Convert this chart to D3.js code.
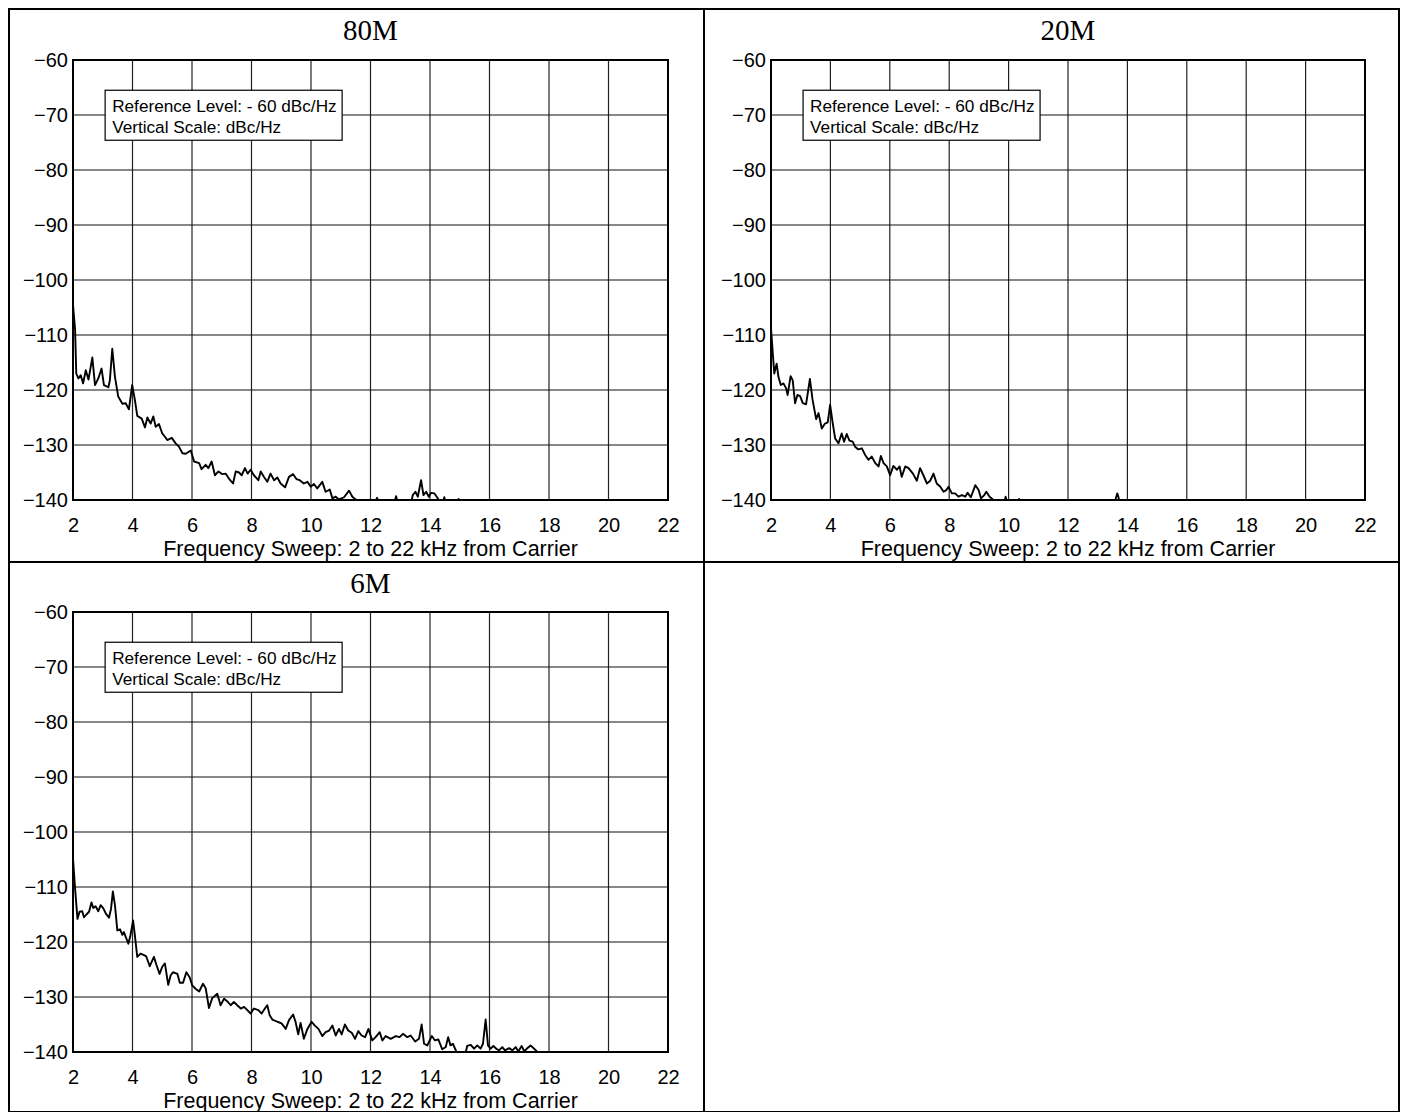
<!DOCTYPE html>
<html>
<head>
<meta charset="utf-8">
<script src="https://cdn.jsdelivr.net/npm/d3@7"></script>
<style>
  html, body { margin: 0; padding: 0; background: #fff; }
  svg { display: block; }
</style>
</head>
<body>
<div id="chart"></div>
<script>
// ---------------- DATA ----------------
const panelTitles = ["80M", "20M", "6M"];
const xTickValues = [2, 4, 6, 8, 10, 12, 14, 16, 18, 20, 22];
const yTickValues = [-60, -70, -80, -90, -100, -110, -120, -130, -140];
const xAxisTitle = "Frequency Sweep: 2 to 22 kHz from Carrier";
const legendLines = ["Reference Level: - 60 dBc/Hz", "Vertical Scale: dBc/Hz"];

// 80M : frequency (kHz from carrier) and level (dBc/Hz); values below -140 are off-scale
const freq80M = [2.00,2.07,2.11,2.18,2.26,2.34,2.43,2.52,2.65,2.74,2.85,2.96,3.04,3.19,3.24,3.32,3.41,3.52,3.66,3.77,3.88,3.99,4.08,4.16,4.31,4.42,4.50,4.61,4.70,4.78,4.89,5.00,5.09,5.17,5.32,5.45,5.56,5.68,5.79,5.96,6.07,6.24,6.32,6.46,6.55,6.66,6.77,6.89,7.02,7.13,7.24,7.38,7.47,7.58,7.67,7.78,7.87,7.97,8.08,8.23,8.31,8.42,8.53,8.64,8.76,8.87,8.98,9.13,9.26,9.40,9.51,9.62,9.76,9.88,9.99,10.10,10.21,10.38,10.49,10.63,10.72,10.83,10.94,11.11,11.28,11.39,11.50,11.61,11.80,12.12,12.22,12.32,12.78,12.86,12.94,13.35,13.42,13.51,13.59,13.70,13.78,13.87,13.96,14.03,14.15,14.26,14.35,14.42,14.48,14.55,14.90,14.96,15.03];
const level80M = [-104.5,-109,-117,-117.9,-117.3,-118.8,-116.4,-118.1,-114.1,-119.1,-117.9,-116.1,-119.1,-119.5,-118.2,-112.5,-117.6,-121.2,-122.5,-122.4,-123.5,-119.1,-121.8,-124.7,-125.2,-126.8,-125.0,-126.1,-124.8,-126.7,-126.2,-127.9,-128.5,-129.1,-128.7,-129.7,-130.3,-131.5,-131.6,-131.0,-133.0,-133.3,-134.4,-133.6,-134.2,-133.0,-135.5,-134.8,-135.3,-135.2,-136.1,-137.0,-134.8,-135.0,-135.5,-134.2,-135.2,-134.5,-135.5,-136.4,-134.8,-135.8,-136.7,-135.2,-136.4,-135.9,-137.0,-137.7,-135.8,-135.3,-136.2,-136.4,-137.0,-136.7,-137.6,-137.1,-137.9,-136.7,-138.5,-138.1,-139.7,-139.4,-139.9,-139.5,-138.3,-139.4,-139.9,-140.2,-141,-141,-139.6,-141,-141,-139.3,-141,-141,-139.1,-138.5,-139.4,-136.4,-139.1,-138.5,-139.4,-138.7,-138.8,-139.7,-141,-141,-139.5,-141,-141,-139.8,-141];

// 20M
const freq20M = [2.00,2.06,2.11,2.19,2.25,2.33,2.42,2.51,2.56,2.66,2.73,2.81,2.89,2.98,3.07,3.18,3.31,3.40,3.52,3.60,3.71,3.82,3.91,3.99,4.08,4.16,4.27,4.38,4.46,4.55,4.64,4.75,4.83,4.94,5.06,5.17,5.28,5.39,5.51,5.62,5.70,5.79,5.90,6.01,6.12,6.24,6.33,6.40,6.52,6.63,6.78,6.91,7.02,7.13,7.25,7.36,7.47,7.58,7.70,7.81,7.90,7.98,8.09,8.20,8.31,8.43,8.54,8.62,8.73,8.88,8.99,9.07,9.18,9.25,9.36,9.49,9.61,9.75,9.84,9.90,9.97,10.30,10.35,10.40,13.55,13.62,13.66,13.70,13.76];
const level20M = [-108.8,-113.3,-117.0,-115.2,-117.6,-119.1,-118.8,-119.7,-120.9,-117.5,-118.2,-122.4,-120.9,-121.1,-122.4,-122.6,-118.0,-121.8,-125.3,-124.2,-127.0,-126.1,-125.9,-122.7,-126.1,-128.8,-129.7,-127.9,-129.4,-128.0,-129.2,-129.4,-130.3,-130.8,-130.6,-131.8,-132.7,-132.1,-133.3,-133.9,-132.0,-133.3,-133.9,-135.5,-133.8,-134.5,-133.9,-135.8,-133.9,-134.2,-135.2,-136.5,-134.2,-135.5,-137.0,-136.5,-135.2,-137.0,-137.6,-138.5,-138.2,-137.6,-138.8,-138.8,-139.4,-139.1,-139.4,-138.7,-139.5,-137.3,-138.2,-139.7,-139.1,-138.5,-139.4,-140.0,-140.3,-141,-141,-139.4,-141,-141,-139.8,-141,-141,-139.5,-138.8,-139.5,-141];

// 6M
const freq6M = [2.00,2.07,2.15,2.22,2.31,2.37,2.45,2.54,2.62,2.68,2.76,2.85,2.93,3.02,3.10,3.21,3.28,3.34,3.41,3.49,3.58,3.66,3.71,3.86,3.93,4.02,4.08,4.16,4.27,4.39,4.46,4.58,4.72,4.80,4.91,5.00,5.09,5.20,5.28,5.36,5.51,5.59,5.70,5.81,5.92,6.01,6.12,6.24,6.37,6.46,6.57,6.68,6.85,6.96,7.08,7.19,7.30,7.41,7.52,7.64,7.75,7.86,7.97,8.08,8.23,8.34,8.45,8.53,8.61,8.70,8.87,9.01,9.15,9.26,9.40,9.48,9.57,9.65,9.76,9.88,10.02,10.13,10.25,10.38,10.49,10.61,10.72,10.83,10.94,11.03,11.14,11.25,11.37,11.48,11.59,11.70,11.82,11.93,12.06,12.17,12.31,12.40,12.51,12.68,12.85,12.98,13.09,13.24,13.35,13.50,13.63,13.72,13.80,13.91,14.06,14.17,14.28,14.41,14.53,14.61,14.69,14.77,14.89,15.00,15.20,15.25,15.37,15.48,15.59,15.70,15.78,15.87,15.95,16.04,16.13,16.23,16.32,16.43,16.52,16.66,16.77,16.88,16.97,17.08,17.17,17.27,17.38,17.50,17.61];
const level6M = [-104.8,-110.3,-115.8,-114.5,-114.4,-115.5,-115.0,-114.5,-112.8,-113.8,-113.5,-114.4,-113.3,-113.9,-114.8,-115.6,-113.9,-110.8,-113.3,-117.9,-117.7,-118.7,-118.2,-120.3,-118.8,-116.1,-118.8,-122.7,-122.1,-122.4,-122.6,-124.4,-122.7,-124.1,-125.8,-124.5,-123.9,-127.8,-126.1,-125.5,-125.8,-127.4,-127.4,-125.5,-126.4,-127.9,-128.5,-129.0,-127.6,-128.4,-132.0,-130.2,-129.4,-131.5,-130.3,-130.8,-131.5,-130.9,-131.5,-132.1,-131.8,-132.4,-133.0,-132.1,-132.4,-133.0,-132.1,-131.5,-133.3,-134.1,-134.5,-134.8,-135.8,-134.2,-133.2,-134.5,-136.8,-134.7,-137.6,-135.8,-134.5,-135.2,-135.8,-137.1,-136.4,-136.1,-135.2,-137.0,-135.8,-136.8,-135.0,-136.1,-136.5,-137.6,-136.2,-137.0,-137.3,-135.8,-137.9,-137.3,-136.4,-137.9,-137.1,-137.6,-137.1,-137.3,-136.7,-137.3,-137.0,-138.1,-137.6,-135.0,-138.5,-138.8,-137.1,-137.9,-137.7,-139.5,-139.1,-137.3,-138.8,-138.5,-140.0,-140.5,-140.1,-138.9,-138.7,-139.4,-138.8,-139.4,-138.5,-134.1,-138.8,-139.4,-138.9,-139.4,-139.7,-139.1,-139.7,-139.3,-139.7,-139.1,-139.9,-138.9,-139.9,-139.3,-138.8,-139.4,-140.0];

const seriesFreq = [freq80M, freq20M, freq6M];
const seriesLevel = [level80M, level20M, level6M];

// ---------------- LAYOUT ----------------
const W = 1404, H = 1112;
const svg = d3.select("#chart").append("svg").attr("width", W).attr("height", H);
svg.append("rect").attr("width", W).attr("height", H).attr("fill", "#fff");

const frame = { x0: 9, y0: 9, x1: 1399, y1: 1112, midX: 704, midY: 562 };
const panels = [
  { left: 73, right: 668, top: 60, bottom: 500, titleY: 40 },
  { left: 771, right: 1365, top: 60, bottom: 500, titleY: 40 },
  { left: 73, right: 668, top: 612, bottom: 1052, titleY: 593 }
];

const sans = "Liberation Sans, Arial, Helvetica, sans-serif";
const serif = "Liberation Serif, Times New Roman, Times, serif";

panels.forEach((p, i) => {
  const g = svg.append("g");
  const x = d3.scaleLinear().domain([2, 22]).range([p.left, p.right]);
  const y = d3.scaleLinear().domain([-140, -60]).range([p.bottom, p.top]);
  const cx = (p.left + p.right) / 2;

  // title
  g.append("text").attr("x", cx).attr("y", p.titleY)
    .attr("text-anchor", "middle").attr("font-family", serif)
    .attr("font-size", 29).attr("fill", "#000").text(panelTitles[i]);

  // grid
  g.append("g").selectAll("line").data(xTickValues.slice(1, -1)).join("line")
    .attr("x1", d => x(d)).attr("x2", d => x(d))
    .attr("y1", p.top).attr("y2", p.bottom)
    .attr("stroke", "#222").attr("stroke-width", 1.2);
  g.append("g").selectAll("line").data(yTickValues.slice(1, -1)).join("line")
    .attr("x1", p.left).attr("x2", p.right)
    .attr("y1", d => y(d)).attr("y2", d => y(d))
    .attr("stroke", "#111").attr("stroke-width", 1.2);

  // legend box
  const lg = g.append("g").attr("transform", `translate(${x(3.08)},${y(-65.5)})`);
  lg.append("rect").attr("width", 237).attr("height", 50)
    .attr("fill", "#fff").attr("stroke", "#000").attr("stroke-width", 1.2);
  lg.selectAll("text").data(legendLines).join("text")
    .attr("x", 7).attr("y", (d, k) => 22 + k * 21)
    .attr("font-family", sans).attr("font-size", 17.2).attr("fill", "#000")
    .text(d => d);

  // curve (clipped at plot area; values below -140 are off-scale)
  const clipId = "clip" + i;
  svg.append("clipPath").attr("id", clipId).append("rect")
    .attr("x", p.left).attr("y", p.top).attr("width", p.right - p.left).attr("height", p.bottom - p.top);
  const pts = seriesFreq[i].map((f, k) => [f, seriesLevel[i][k]]);
  const line = d3.line().x(d => x(d[0])).y(d => y(d[1]));
  g.append("path").attr("d", line(pts)).attr("clip-path", `url(#${clipId})`)
    .attr("fill", "none").attr("stroke", "#000").attr("stroke-width", 1.9)
    .attr("stroke-linejoin", "round");

  // plot frame
  g.append("rect").attr("x", p.left).attr("y", p.top)
    .attr("width", p.right - p.left).attr("height", p.bottom - p.top)
    .attr("fill", "none").attr("stroke", "#000").attr("stroke-width", 2);

  // axes (labels via d3 axes)
  const xAxis = d3.axisBottom(x).tickValues(xTickValues).tickSize(0).tickPadding(18);
  const xa = g.append("g").attr("transform", `translate(0,${p.bottom})`).call(xAxis);
  xa.select(".domain").remove();
  xa.selectAll("text").attr("font-family", sans).attr("font-size", 20).attr("fill", "#000");

  const yAxis = d3.axisLeft(y).tickValues(yTickValues).tickSize(0).tickPadding(5)
    .tickFormat(d => "\u2212" + Math.abs(d));
  const ya = g.append("g").attr("transform", `translate(${p.left},0)`).call(yAxis);
  ya.select(".domain").remove();
  ya.selectAll("text").attr("font-family", sans).attr("font-size", 20).attr("fill", "#000");

  g.append("text").attr("x", cx).attr("y", p.bottom + 56)
    .attr("text-anchor", "middle").attr("font-family", sans).attr("font-size", 21.5)
    .attr("fill", "#000").text(xAxisTitle);
});

// outer frame & dividers
const fr = svg.append("g").attr("fill", "none").attr("stroke", "#000").attr("stroke-width", 2);
fr.append("rect").attr("x", frame.x0).attr("y", frame.y0)
  .attr("width", frame.x1 - frame.x0).attr("height", frame.y1 - frame.y0);
fr.append("line").attr("x1", frame.midX).attr("x2", frame.midX).attr("y1", frame.y0).attr("y2", frame.y1);
fr.append("line").attr("x1", frame.x0).attr("x2", frame.x1).attr("y1", frame.midY).attr("y2", frame.midY);
</script>
</body>
</html>
